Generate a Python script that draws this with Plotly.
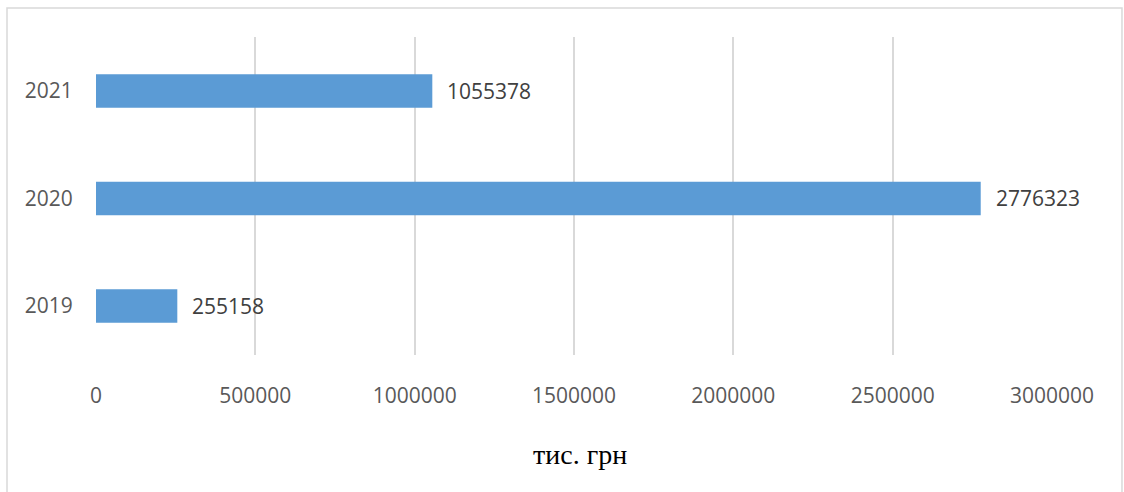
import plotly.graph_objects as go

# Annual values, thousand UAH
years = ["2019", "2020", "2021"]
values = [255158, 2776323, 1055378]
x_ticks = [0, 500000, 1000000, 1500000, 2000000, 2500000, 3000000]
x_title = "тис. грн"

BAR = "#5b9bd5"
GRID = "#d9d9d9"
LABEL = "#595959"
VALUE_TXT = "#404040"
FONT = "Open Sans, Liberation Sans, sans-serif"

fig = go.Figure()
fig.add_trace(go.Bar(
    y=years, x=values, orientation="h",
    marker=dict(color=BAR, line=dict(width=0)),
    width=0.31, hoverinfo="x+y",
))

# value labels just right of each bar end (y given as category index)
for i, v in enumerate(values):
    fig.add_annotation(
        x=v, y=i, text=str(v), showarrow=False,
        xanchor="left", yanchor="middle", xshift=13,
        font=dict(family=FONT, size=21, color=VALUE_TXT),
    )

# axis title below the tick labels
fig.add_annotation(
    x=0.506, y=-0.314, xref="paper", yref="paper",
    text=x_title, showarrow=False, xanchor="center", yanchor="middle",
    font=dict(family="Liberation Serif, Times New Roman, serif", size=28, color="#000000"),
)

# thin frame around the whole chart area
fig.add_shape(
    type="rect", xref="paper", yref="paper",
    x0=-0.0931, x1=1.0732, y0=-0.45, y1=1.0912,
    line=dict(color=GRID, width=1.5), fillcolor="rgba(0,0,0,0)", layer="below",
)

fig.update_layout(
    width=1124, height=492,
    margin=dict(l=96, r=72, t=37, b=137),
    paper_bgcolor="white", plot_bgcolor="white",
    showlegend=False,
    xaxis=dict(
        range=[0, 3000000], tickvals=x_ticks, ticktext=[str(t) for t in x_ticks],
        showgrid=True, gridcolor=GRID, gridwidth=2,
        zeroline=False, showline=False,
        ticks="outside", ticklen=22, tickcolor="rgba(0,0,0,0)",
        tickfont=dict(family=FONT, size=21, color=LABEL),
        fixedrange=True,
    ),
    yaxis=dict(
        type="category",
        categoryorder="array", categoryarray=years,
        range=[-0.456, 2.502],
        showgrid=False, zeroline=False, showline=False,
        ticks="outside", ticklen=18, tickcolor="rgba(0,0,0,0)",
        tickfont=dict(family=FONT, size=21, color=LABEL),
        fixedrange=True,
    ),
)

fig.write_html("out.html")
